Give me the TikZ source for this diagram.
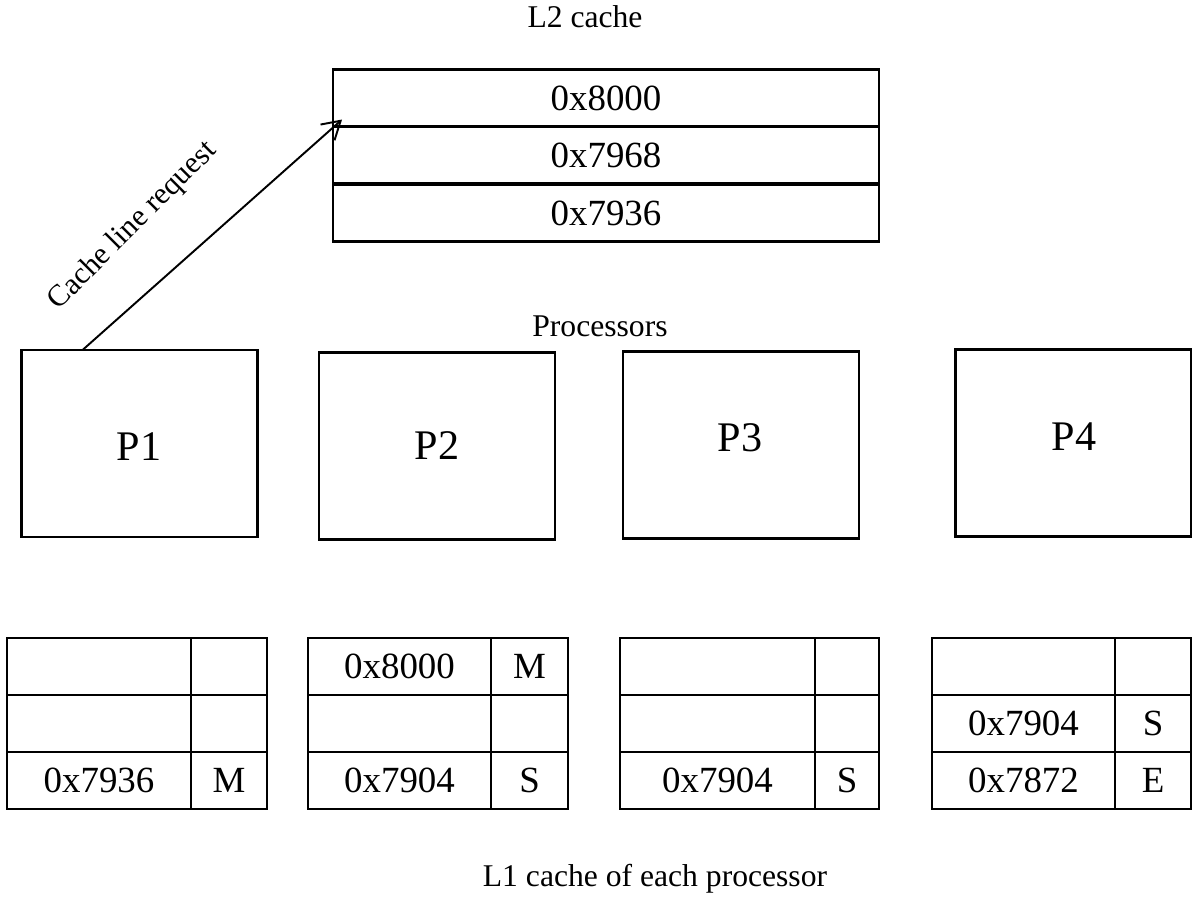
\documentclass[tikz,border=0pt]{standalone}
\usepackage{fontspec}
\setmainfont{Liberation Serif}
\usetikzlibrary{arrows.meta}

\tikzset{
  grid/.style={line width=1.5pt},
  caption/.style={font=\fontsize{18}{20}\selectfont},
  celltext/.style={font=\fontsize{21}{23}\selectfont},
  l2cell/.style={draw, line width=1.5pt, minimum width=10.92cm, minimum height=1.14cm,
    inner sep=0pt, outer sep=0pt, font=\fontsize{21}{23}\selectfont},
  procbox/.style={draw, line width=1.5pt, minimum width=4.72cm, minimum height=3.74cm,
    inner sep=0pt, outer sep=0pt},
  proclabel/.style={font=\fontsize{24}{26}\selectfont}
}

\begin{document}
\begin{tikzpicture}[x=0.02cm, y=-0.02cm]
    \useasboundingbox (0,0) rectangle (1192,897);

    % L2 cache
    \node[caption] (l2title) at (585,17) {L2 cache};
    \node[l2cell] (l2a) at (606,98) {0x8000};
    \node[l2cell] (l2b) at (606,155) {0x7968};
    \node[l2cell] (l2c) at (606,213) {0x7936};

    % Processors
    \node[caption] (proctitle) at (600,326) {Processors};
    \node[procbox] (p1) at (139.5,443.5) {};
    \node[procbox] (p2) at (437,446) {};
    \node[procbox] (p3) at (741,445) {};
    \node[procbox] (p4) at (1073.5,443) {};
    \node[proclabel] (p1l) at (139,447) {P1};
    \node[proclabel] (p2l) at (437,446) {P2};
    \node[proclabel] (p3l) at (740,438) {P3};
    \node[proclabel] (p4l) at (1074,437) {P4};

    % Request from P1 to L2
    \draw[line width=1.1pt, -{Straight Barb[length=10pt, width=12pt]}]
        ([xshift=1.22cm]p1.north west) -- ([xshift=0.18cm, yshift=0.14cm]l2b.north west);
    \node[font=\fontsize{17.3}{19}\selectfont, rotate=45] (req) at (133,226) {Cache line request};

    % L1 of P1
    \draw[grid] (7,638) rectangle (267,809);
    \draw[grid] (7,695) -- (267,695) (7,752) -- (267,752) (191,638) -- (191,809);
    \node[celltext] (c1a) at (99,780.5) {0x7936};
    \node[celltext] (c1s) at (229,780.5) {M};

    % L1 of P2
    \draw[grid] (308,638) rectangle (568,809);
    \draw[grid] (308,695) -- (568,695) (308,752) -- (568,752) (491,638) -- (491,809);
    \node[celltext] (c2a) at (399.5,666.5) {0x8000};
    \node[celltext] (c2s) at (529.5,666.5) {M};
    \node[celltext] (c2b) at (399.5,780.5) {0x7904};
    \node[celltext] (c2t) at (529.5,780.5) {S};

    % L1 of P3
    \draw[grid] (620,638) rectangle (879,809);
    \draw[grid] (620,695) -- (879,695) (620,752) -- (879,752) (815,638) -- (815,809);
    \node[celltext] (c3a) at (717.5,780.5) {0x7904};
    \node[celltext] (c3s) at (847,780.5) {S};

    % L1 of P4
    \draw[grid] (932,638) rectangle (1191,809);
    \draw[grid] (932,695) -- (1191,695) (932,752) -- (1191,752) (1115,638) -- (1115,809);
    \node[celltext] (c4a) at (1023.5,723.5) {0x7904};
    \node[celltext] (c4s) at (1153,723.5) {S};
    \node[celltext] (c4b) at (1023.5,780.5) {0x7872};
    \node[celltext] (c4t) at (1153,780.5) {E};

    \node[caption] (l1title) at (655,879) {L1 cache of each processor};
\end{tikzpicture}
\end{document}
